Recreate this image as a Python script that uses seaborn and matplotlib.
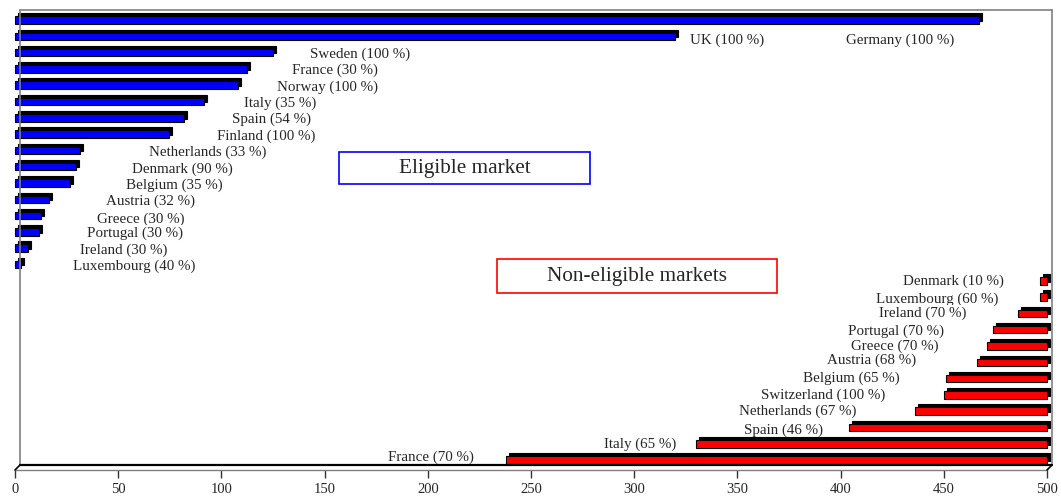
import matplotlib
matplotlib.use("Agg")
import matplotlib.pyplot as plt
from matplotlib.patches import Rectangle
from matplotlib.lines import Line2D
from matplotlib.transforms import ScaledTranslation
import pandas as pd
import seaborn as sns

# ---- data -------------------------------------------------------------
eligible_countries = ["Germany", "UK", "Sweden", "France", "Norway", "Italy",
                      "Spain", "Finland", "Netherlands", "Denmark", "Belgium",
                      "Austria", "Greece", "Portugal", "Ireland", "Luxembourg"]
eligible_share = [100, 100, 100, 30, 100, 35, 54, 100, 33, 90, 35, 32, 30, 30, 30, 40]
eligible_volume = [467, 320, 125, 112.5, 108, 91.5, 82, 74.5, 31.5, 29.5, 26.5,
                   16.5, 12.5, 11.5, 6.5, 3]

nonelig_countries = ["Denmark", "Luxembourg", "Ireland", "Portugal", "Greece",
                     "Austria", "Belgium", "Switzerland", "Netherlands", "Spain",
                     "Italy", "France"]
nonelig_share = [10, 60, 70, 70, 70, 68, 65, 100, 67, 46, 65, 70]
nonelig_volume = [3.5, 3.5, 14, 26, 29, 34, 49, 50, 64, 96, 170, 262]

x_ticks = [0, 50, 100, 150, 200, 250, 300, 350, 400, 450, 500]

# ---- label layout (centre x in data units, vertical nudge in rows) ----
eligible_label_x = [428.8, 345, 167, 155, 151.4, 128.6, 124.3, 121.9, 93.2,
                    81.3, 77.1, 65.6, 61, 58, 52.8, 57.7]
eligible_label_row = [1, 1, 2, 3, 4, 5, 6, 7, 8, 9, 10, 11, 12, 13, 14, 15]
eligible_label_dy = [0.23, 0.23, 0.1, 0.1, 0.12, 0.12, 0.12, 0.12, 0.12, 0.15,
                     0.15, 0.15, 0.2, 0.07, 0.1, 0.1]
nonelig_label_x = [454.5, 447, 439.7, 426.8, 426.4, 415.2, 405.3, 391.7, 379.4,
                   372.3, 302.8, 201.3]
nonelig_label_dy = [0.0, 0.15, 0.0, 0.07, 0.0, -0.1, 0.0, 0.0, 0.0, 0.2, 0.0, -0.2]

BLUE = "#0000FF"
RED = "#FF0000"
GRID_GREY = "#808080"

sns.set_style("white")
plt.rcParams["font.family"] = ["Liberation Serif", "DejaVu Serif"]

keys = [f"E-{c}" for c in eligible_countries] + [f"N-{c}" for c in nonelig_countries]
df_e = pd.DataFrame({"key": [f"E-{c}" for c in eligible_countries],
                     "volume": eligible_volume})
df_n = pd.DataFrame({"key": [f"N-{c}" for c in nonelig_countries],
                     "volume": nonelig_volume})

W, H = 1061, 500
fig = plt.figure(figsize=(W / 100, H / 100), dpi=100)
ax = fig.add_axes([15 / W, 30 / H, 1032 / W, 455 / H])

bar_w = 0.46
sns.barplot(data=df_e, x="volume", y="key", order=keys, orient="h",
            color=BLUE, saturation=1, width=bar_w, edgecolor="black",
            linewidth=0.8, ax=ax, zorder=3)

# non-eligible volumes grow leftwards from the 500 mark
ax2 = ax.twiny()
sns.barplot(data=df_n, x="volume", y="key", order=keys, orient="h",
            color=RED, saturation=1, width=bar_w, edgecolor="black",
            linewidth=0.8, ax=ax2, zorder=3)

ax.set_xlim(0, 500)
ax2.set_xlim(500, 0)
ax.set_ylim(27.61, -0.307)

# depth (3-D look): black block behind every bar, shifted up/right
depth = ScaledTranslation(0.03, 0.03, fig.dpi_scale_trans)
for a in (ax, ax2):
    for p in list(a.patches):
        sh = Rectangle(p.get_xy(), p.get_width(), p.get_height(),
                       transform=a.transData + depth, facecolor="black",
                       edgecolor="black", linewidth=0.8, zorder=2.5,
                       clip_on=False)
        a.add_patch(sh)
        p.set_clip_on(False)

ax2.axis("off")

# axes styling
for s in ("left", "top", "right"):
    ax.spines[s].set_visible(False)
ax.spines["bottom"].set_color(GRID_GREY)
ax.spines["bottom"].set_linewidth(1.0)
ax.set_yticks([])
ax.set_ylabel("")
ax.set_xlabel("")
ax.set_xticks(x_ticks)
ax.set_xticklabels([str(t) for t in x_ticks], fontsize=10.5)
ax.tick_params(axis="x", length=6, width=1, color="#333333", pad=3.5,
               direction="out")

# back wall and floor edges
back = ax.transAxes + ScaledTranslation(0.05, 0.05, fig.dpi_scale_trans)
for xs, ys, col, lw in [([0, 0], [0, 1], GRID_GREY, 1.2),
                        ([0, 1], [1, 1], GRID_GREY, 1.2),
                        ([1, 1], [1, 0], GRID_GREY, 1.2),
                        ([0, 1], [0, 0], "black", 1.6)]:
    fig.add_artist(Line2D(xs, ys, transform=back, color=col, linewidth=lw,
                          zorder=1))
for xa in (0, 1):
    pts = [ax.transAxes.transform((xa, 0))]
    pts.append(pts[0] + [5, 5])
    fig.add_artist(Line2D([pts[0][0], pts[1][0]], [pts[0][1], pts[1][1]],
                          transform=None, color="black", linewidth=1.2,
                          zorder=1))

# value labels
label_kw = dict(ha="center", va="center", fontsize=10.8, zorder=5,
                bbox=dict(boxstyle="square,pad=0.08", facecolor="white",
                          edgecolor="none"))
for c, s, x, r, dy in zip(eligible_countries, eligible_share, eligible_label_x,
                          eligible_label_row, eligible_label_dy):
    ax.text(x, r + dy, f"{c} ({s} %)", **label_kw)
for i, (c, s, x, dy) in enumerate(zip(nonelig_countries, nonelig_share,
                                      nonelig_label_x, nonelig_label_dy)):
    ax.text(x, len(eligible_countries) + i + dy, f"{c} ({s} %)", **label_kw)

# group captions
for (x0, y0, x1, y1), col, txt in [((339, 152, 590, 184), BLUE, "Eligible market"),
                                   ((497, 259, 777, 293), RED, "Non-eligible markets")]:
    fig.add_artist(Rectangle((x0 / W, 1 - y1 / H), (x1 - x0) / W, (y1 - y0) / H,
                             transform=fig.transFigure, facecolor="white",
                             edgecolor=col, linewidth=1.2, zorder=6))
    fig.text((x0 + x1) / 2 / W, 1 - (y0 + y1) / 2 / H, txt, ha="center",
             va="center", fontsize=15.3, zorder=7)

fig.savefig("out.png", dpi=100)
